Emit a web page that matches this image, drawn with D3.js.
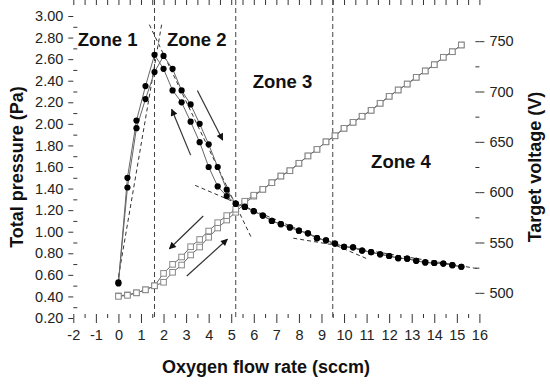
<!DOCTYPE html>
<html>
<head>
<meta charset="utf-8">
<script src="https://cdn.jsdelivr.net/npm/d3@7"></script>
<style>
  body { margin: 0; background: #fff; }
  svg { font-family: Arial, "Liberation Sans", sans-serif; }
</style>
</head>
<body>
<svg id="chart" width="550" height="387"></svg>
<script>
// oxygen flow rate steps (sccm)
var flowRate = [0, 0.4, 0.8, 1.2, 1.6, 2.0, 2.4, 2.8, 3.2, 3.6, 4.0, 4.4, 4.8, 5.2, 5.6, 6.0, 6.4, 6.8, 7.2, 7.6,
  8.0, 8.4, 8.8, 9.2, 9.6, 10.0, 10.4, 10.8, 11.2, 11.6, 12.0, 12.4, 12.8, 13.2, 13.6, 14.0, 14.4, 14.8, 15.2];

// total pressure (Pa), increasing and decreasing flow
var pressureUp = [0.53, 1.41, 1.96, 2.23, 2.48, 2.63, 2.51, 2.31, 2.18, 2.00, 1.81, 1.60, 1.39, 1.26, 1.23, 1.19, 1.15, 1.10, 1.07, 1.04,
  1.01, 0.985, 0.94, 0.92, 0.89, 0.86, 0.855, 0.825, 0.81, 0.79, 0.775, 0.755, 0.75, 0.73, 0.715, 0.71, 0.705, 0.69, 0.675];
var pressureDown = [0.52, 1.50, 2.03, 2.35, 2.64, 2.51, 2.31, 2.20, 2.02, 1.83, 1.60, 1.42, 1.33, 1.26, 1.23, 1.19, 1.15, 1.10, 1.07, 1.04,
  1.01, 0.985, 0.94, 0.92, 0.89, 0.86, 0.855, 0.825, 0.81, 0.79, 0.775, 0.755, 0.75, 0.73, 0.715, 0.71, 0.705, 0.69, 0.675];

// target voltage (V), increasing and decreasing flow
var voltageUp = [497, 498, 500, 503, 507, 510.5, 520.4, 527.6, 537.6, 545.5, 555.2, 564.4, 572.3, 580, 589, 596, 602.8, 609.4, 616, 621.3,
  628.7, 636, 642.5, 650, 656, 663.4, 669.4, 675.4, 681.3, 688.3, 695.2, 701.5, 707.4, 714.1, 720.4, 726.6, 734, 739.5, 746.2];
var voltageDown = [496.5, 497.5, 500, 503, 507, 519.3, 528.3, 535.6, 545.8, 553, 561.4, 569.7, 576.7, 583, 591, 597, 602.8, 609.4, 616, 621.3,
  628.7, 636, 642.5, 650, 656, 663.4, 669.4, 675.4, 681.3, 688.3, 695.2, 701.5, 707.4, 714.1, 720.4, 726.6, 734, 739.5, 746.2];

// zone borders (sccm)
var zoneBorders = [1.6, 5.2, 9.5];

// dashed tangent lines [x1, p1, x2, p2]
var tangents = [
  [0.0, 0.58, 1.93, 2.94],
  [1.37, 2.92, 5.88, 0.95],
  [3.40, 1.43, 11.08, 0.744],
  [7.75, 0.94, 16.0, 0.655]
];

// direction arrows [x1, p1, x2, p2]
var arrows = [
  [3.50, 2.31, 4.62, 1.85],
  [3.20, 1.71, 2.36, 2.135],
  [3.76, 1.146, 2.26, 0.842],
  [3.03, 0.589, 4.83, 0.93]
];

var zoneNames = ['Zone 1', 'Zone 2', 'Zone 3', 'Zone 4'];
var zoneX = [-1.8, 2.15, 5.95, 11.2];
var zoneP = [2.72, 2.72, 2.33, 1.59];

var xTicks = d3.range(-2, 17, 1);
var pTicks = [0.2, 0.4, 0.6, 0.8, 1.0, 1.2, 1.4, 1.6, 1.8, 2.0, 2.2, 2.4, 2.6, 2.8, 3.0];
var vTicks = [500, 550, 600, 650, 700, 750];

var svg = d3.select('#chart');

var x = d3.scaleLinear().domain([-2, 16]).range([73.3, 479.4]);
var yP = d3.scaleLinear().domain([0.2, 3.0]).range([318, 16]);
var yV = d3.scaleLinear().domain([475, 775]).range([318, 16]);

var left = x.range()[0], right = x.range()[1], top = yP.range()[1], bottom = yP.range()[0];

function styleAxis(g) {
  g.select('.domain').remove();
  g.selectAll('line').attr('stroke', '#333').attr('stroke-width', 1);
  g.selectAll('text').attr('fill', '#222').style('font-size', '14.5px');
}

var xMinor = d3.range(-1.5, 16, 1);
var pMinor = d3.range(0.3, 3.0, 0.2);
var vMinor = d3.range(525, 775, 50);

// bottom axis
svg.append('g').attr('transform', 'translate(0,' + bottom + ')')
  .call(d3.axisBottom(x).tickValues(xTicks).tickSize(5).tickPadding(7).tickFormat(function (d) { return String(d); }))
  .call(styleAxis);
svg.append('g').attr('transform', 'translate(0,' + bottom + ')')
  .call(d3.axisBottom(x).tickValues(xTicks.concat(xMinor)).tickSize(-4).tickFormat(''))
  .call(styleAxis);
// top axis
svg.append('g').attr('transform', 'translate(0,' + top + ')')
  .call(d3.axisTop(x).tickValues(xTicks.concat(xMinor)).tickSize(-5).tickFormat(''))
  .call(styleAxis);
// left axis
svg.append('g').attr('transform', 'translate(' + left + ',0)')
  .call(d3.axisLeft(yP).tickValues(pTicks).tickSize(5).tickPadding(5).tickFormat(d3.format('.2f')))
  .call(styleAxis);
svg.append('g').attr('transform', 'translate(' + left + ',0)')
  .call(d3.axisLeft(yP).tickValues(pMinor).tickSize(-4).tickFormat(''))
  .call(styleAxis);
// right axis
svg.append('g').attr('transform', 'translate(' + right + ',0)')
  .call(d3.axisRight(yV).tickValues(vTicks).tickSize(5).tickPadding(5))
  .call(styleAxis);
svg.append('g').attr('transform', 'translate(' + right + ',0)')
  .call(d3.axisRight(yV).tickValues(vTicks.concat(vMinor)).tickSize(-4).tickFormat(''))
  .call(styleAxis);

// frame
svg.append('rect')
  .attr('x', left).attr('y', top)
  .attr('width', right - left).attr('height', bottom - top)
  .attr('fill', 'none').attr('stroke', '#333').attr('stroke-width', 1);

// zone borders
svg.selectAll('.zone-line').data(zoneBorders).enter().append('line')
  .attr('class', 'zone-line')
  .attr('x1', function (d) { return x(d); }).attr('x2', function (d) { return x(d); })
  .attr('y1', top).attr('y2', bottom)
  .attr('stroke', '#444').attr('stroke-width', 1).attr('stroke-dasharray', '5,3');

// tangents
svg.selectAll('.tangent').data(tangents).enter().append('line')
  .attr('class', 'tangent')
  .attr('x1', function (d) { return x(d[0]); }).attr('y1', function (d) { return yP(d[1]); })
  .attr('x2', function (d) { return x(d[2]); }).attr('y2', function (d) { return yP(d[3]); })
  .attr('stroke', '#333').attr('stroke-width', 1).attr('stroke-dasharray', '4,3');

// voltage series
var vLine = d3.line().x(function (d, i) { return x(flowRate[i]); }).y(function (d) { return yV(d); });
[voltageUp, voltageDown].forEach(function (series) {
  svg.append('path').datum(series)
    .attr('d', vLine).attr('fill', 'none').attr('stroke', '#666').attr('stroke-width', 1);
});
[voltageUp, voltageDown].forEach(function (series) {
  svg.append('g').selectAll('rect').data(series).enter().append('rect')
    .attr('x', function (d, i) { return x(flowRate[i]) - 2.8; })
    .attr('y', function (d) { return yV(d) - 2.8; })
    .attr('width', 5.6).attr('height', 5.6)
    .attr('fill', '#fff').attr('stroke', '#888').attr('stroke-width', 1);
});

// pressure series
var pLine = d3.line().x(function (d, i) { return x(flowRate[i]); }).y(function (d) { return yP(d); });
[pressureUp, pressureDown].forEach(function (series) {
  svg.append('path').datum(series)
    .attr('d', pLine).attr('fill', 'none').attr('stroke', '#666').attr('stroke-width', 1);
});
[pressureUp, pressureDown].forEach(function (series) {
  svg.append('g').selectAll('circle').data(series).enter().append('circle')
    .attr('cx', function (d, i) { return x(flowRate[i]); })
    .attr('cy', function (d) { return yP(d); })
    .attr('r', 3.1).attr('fill', '#000');
});

// arrows
svg.append('defs').append('marker')
  .attr('id', 'head').attr('viewBox', '0 0 10 10')
  .attr('refX', 9).attr('refY', 5)
  .attr('markerWidth', 9).attr('markerHeight', 7)
  .attr('markerUnits', 'userSpaceOnUse')
  .attr('orient', 'auto')
  .append('path').attr('d', 'M0,0 L10,5 L0,10 Z').attr('fill', '#111');

svg.selectAll('.arrow').data(arrows).enter().append('line')
  .attr('class', 'arrow')
  .attr('x1', function (d) { return x(d[0]); }).attr('y1', function (d) { return yP(d[1]); })
  .attr('x2', function (d) { return x(d[2]); }).attr('y2', function (d) { return yP(d[3]); })
  .attr('stroke', '#333').attr('stroke-width', 1.2)
  .attr('marker-end', 'url(#head)');

// zone labels
svg.selectAll('.zone-label').data(zoneNames).enter().append('text')
  .attr('class', 'zone-label')
  .attr('x', function (d, i) { return x(zoneX[i]); })
  .attr('y', function (d, i) { return yP(zoneP[i]); })
  .attr('font-weight', 'bold').style('font-size', '18.5px').attr('fill', '#111')
  .text(function (d) { return d; });

// axis titles
svg.append('text')
  .attr('transform', 'translate(23,167) rotate(-90)')
  .attr('text-anchor', 'middle').attr('font-weight', 'bold').style('font-size', '18px').attr('fill', '#111')
  .text('Total pressure (Pa)');
svg.append('text')
  .attr('transform', 'translate(541,167) rotate(-90)')
  .attr('text-anchor', 'middle').attr('font-weight', 'bold').style('font-size', '18px').attr('fill', '#111')
  .text('Target voltage (V)');
svg.append('text')
  .attr('x', 266).attr('y', 373)
  .attr('text-anchor', 'middle').attr('font-weight', 'bold').style('font-size', '18px').attr('fill', '#111')
  .text('Oxygen flow rate (sccm)');
</script>
</body>
</html>
